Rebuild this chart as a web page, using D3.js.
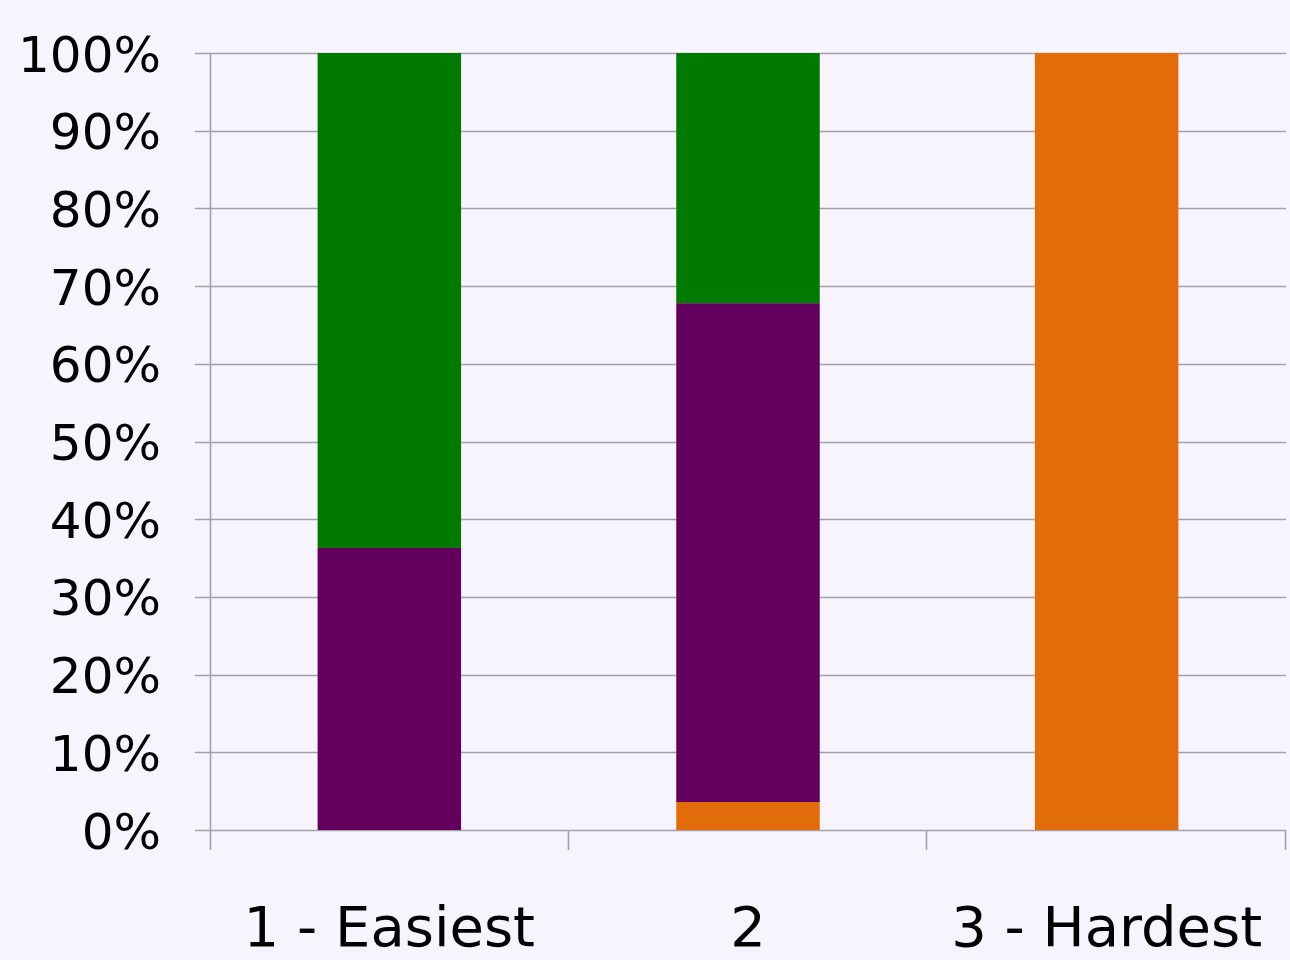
<!DOCTYPE html>
<html>
<head>
<meta charset="utf-8">
<script src="https://cdn.jsdelivr.net/npm/d3@7"></script>
<style>
  html, body { margin: 0; padding: 0; background: #f7f4fd; }
  svg { display: block; }
  text { font-family: "DejaVu Sans", Verdana, sans-serif; fill: #000; }
</style>
</head>
<body>
<svg id="chart" width="1290" height="960"></svg>
<script>
// Difficulty levels along the x axis
const categories = ["1 - Easiest", "2", "3 - Hardest"];
// Share of each series per category (percent), stacked bottom to top
const seriesNames = ["Orange", "Purple", "Green"];
const orangeValues = [0, 3.6, 100];
const purpleValues = [36.3, 64.2, 0];
const greenValues  = [63.7, 32.2, 0];
const seriesColors = ["#e36c0a", "#63005e", "#007a00"];
const yTicks = [0, 10, 20, 30, 40, 50, 60, 70, 80, 90, 100];

const svg = d3.select("#chart");
const margin = { left: 210, right: 4, top: 53, bottom: 130 };
const W = 1290, H = 960;

const x = d3.scaleBand()
  .domain(categories)
  .range([margin.left, W - margin.right])
  .paddingInner(0.6)
  .paddingOuter(0.3);

const y = d3.scaleLinear()
  .domain([0, 100])
  .range([H - margin.bottom, margin.top]);

const rows = categories.map((c, i) => ({
  cat: c,
  Orange: orangeValues[i],
  Purple: purpleValues[i],
  Green: greenValues[i]
}));
const stacked = d3.stack().keys(seriesNames)(rows);

const gridColor = "#a3a1a8";

// Y tick labels
const yg = svg.append("g")
  .attr("transform", `translate(${margin.left - 15},0)`)
  .call(d3.axisLeft(y).tickValues(yTicks).tickSize(0).tickPadding(0).tickFormat(d => d + "%"));
yg.select(".domain").remove();
yg.selectAll("text")
  .attr("x", -34)
  .attr("dy", "0.36em")
  .style("font-size", "50px")
  .style("font-family", "\"DejaVu Sans\", Verdana, sans-serif");

// Horizontal gridlines, extending left as tick marks
svg.append("g").selectAll("line.grid")
  .data(yTicks)
  .join("line")
  .attr("x1", margin.left - 15)
  .attr("x2", W - margin.right)
  .attr("y1", d => Math.round(y(d)) + 0.5)
  .attr("y2", d => Math.round(y(d)) + 0.5)
  .attr("stroke", gridColor)
  .attr("stroke-width", 1.6);

// Vertical axis line
svg.append("line")
  .attr("x1", margin.left + 0.5).attr("x2", margin.left + 0.5)
  .attr("y1", y(100)).attr("y2", y(0) + 20)
  .attr("stroke", gridColor).attr("stroke-width", 1.6);

// Category boundary ticks below the baseline
const boundaries = d3.range(categories.length + 1).map(i => margin.left + i * (W - margin.right - margin.left) / categories.length);
svg.append("g").selectAll("line.xt")
  .data(boundaries.slice(1))
  .join("line")
  .attr("x1", d => Math.round(d) - 0.5).attr("x2", d => Math.round(d) - 0.5)
  .attr("y1", y(0)).attr("y2", y(0) + 20)
  .attr("stroke", gridColor).attr("stroke-width", 1.6);

// Stacked bars
svg.append("g").selectAll("g.series")
  .data(stacked)
  .join("g")
  .attr("fill", (d, i) => seriesColors[i])
  .selectAll("rect")
  .data(d => d)
  .join("rect")
  .attr("x", d => x(d.data.cat))
  .attr("width", x.bandwidth())
  .attr("y", d => y(d[1]))
  .attr("height", d => y(d[0]) - y(d[1]));

// Category labels
svg.append("g").selectAll("text.cat")
  .data(categories)
  .join("text")
  .attr("x", d => x(d) + x.bandwidth() / 2)
  .attr("y", 946)
  .attr("text-anchor", "middle")
  .style("font-size", "56px")
  .text(d => d);
</script>
</body>
</html>
